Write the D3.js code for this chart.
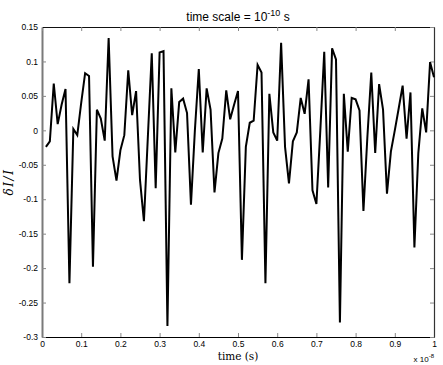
<!DOCTYPE html>
<html>
<head>
<meta charset="utf-8">
<script src="https://cdn.jsdelivr.net/npm/d3@7"></script>
<style>
  body { margin: 0; background: #fff; }
  svg { display: block; }
</style>
</head>
<body>
<script>
// waarden (tijd in eenheden van 1e-8 s)
var times = d3.range(1, 101).map(function (i) { return i / 100; });
var values = [
    -0.024, -0.016, 0.068, 0.009, 0.037, 0.060, -0.222, 0.002, -0.007, 0.040,
    0.083, 0.079, -0.198, 0.030, 0.017, -0.015, 0.134, -0.038, -0.073, -0.029,
    -0.007, 0.087, 0.022, 0.057, -0.072, -0.132, -0.010, 0.112, -0.084, 0.113,
    0.115, -0.284, 0.061, -0.032, 0.041, 0.046, 0.025, -0.108, 0.000, 0.089,
    -0.032, 0.061, 0.030, -0.090, -0.033, -0.012, 0.058, 0.016, 0.037, 0.057,
    -0.188, -0.024, 0.011, 0.014, 0.095, 0.084, -0.222, 0.053, -0.003, -0.015,
    0.127, -0.024, -0.077, -0.016, -0.003, 0.047, 0.024, 0.074, -0.087, -0.107,
    0.000, 0.114, -0.083, 0.119, 0.103, -0.279, 0.053, -0.031, 0.047, 0.045,
    0.029, -0.117, -0.010, 0.084, -0.033, 0.067, 0.030, -0.092, -0.031, 0.000,
    0.032, 0.065, -0.012, 0.055, -0.170, -0.033, 0.032, -0.003, 0.099, 0.077
];
var xTicks = [0, 0.1, 0.2, 0.3, 0.4, 0.5, 0.6, 0.7, 0.8, 0.9, 1];
var yTicks = [-0.3, -0.25, -0.2, -0.15, -0.1, -0.05, 0, 0.05, 0.1, 0.15];
var xTickLabels = ["0", "0.1", "0.2", "0.3", "0.4", "0.5", "0.6", "0.7", "0.8", "0.9", "1"];
var yTickLabels = ["-0.3", "-0.25", "-0.2", "-0.15", "-0.1", "-0.05", "0", "0.05", "0.1", "0.15"];

var margin = { top: 27, right: 9, bottom: 28, left: 42 },
    width = 443 - margin.left - margin.right,
    height = 365 - margin.top - margin.bottom;

var sans = "Liberation Sans, Arial, sans-serif";

var svg = d3.select("body").append("svg")
    .attr("width", 443)
    .attr("height", 365);

var g = svg.append("g")
    .attr("transform", "translate(" + margin.left + "," + margin.top + ")");

var x = d3.scaleLinear().domain([0, 1]).range([0, width]);
var y = d3.scaleLinear().domain([-0.3, 0.15]).range([height, 0]);

// assen in matlab stijl: ticks naar binnen, op alle vier zijden
function stijl(kleur, dikte) {
    return function (sel) {
        sel.selectAll("path.domain").attr("stroke", kleur).attr("stroke-width", dikte);
        sel.selectAll(".tick line").attr("stroke", "#888");
        sel.selectAll("text")
            .attr("fill", "#000")
            .attr("font-family", sans)
            .attr("font-size", 8.5);
    };
}

g.append("g")
    .attr("transform", "translate(0," + height + ")")
    .call(d3.axisBottom(x).tickValues(xTicks).tickSize(-4).tickSizeOuter(0).tickPadding(4)
        .tickFormat(function (d, i) { return xTickLabels[i]; }))
    .call(stijl("#000", 1.2));

g.append("g")
    .call(d3.axisLeft(y).tickValues(yTicks).tickSize(-4).tickSizeOuter(0).tickPadding(4)
        .tickFormat(function (d, i) { return yTickLabels[i]; }))
    .call(stijl("#7a7a7a", 2));

g.append("g")
    .call(d3.axisTop(x).tickValues(xTicks).tickSize(-4).tickSizeOuter(0).tickFormat(""))
    .call(stijl("#111", 1.2));

g.append("g")
    .attr("transform", "translate(" + width + ",0)")
    .call(d3.axisRight(y).tickValues(yTicks).tickSize(-4).tickSizeOuter(0).tickFormat(""))
    .call(stijl("#333", 1.2));

// de lijn zelf
var line = d3.line()
    .x(function (d, i) { return x(times[i]); })
    .y(function (d) { return y(d); });

g.append("path")
    .datum(values)
    .attr("fill", "none")
    .attr("stroke", "#000")
    .attr("stroke-width", 2)
    .attr("stroke-linejoin", "miter")
    .attr("d", line);

// titel
var title = svg.append("text")
    .attr("x", margin.left + width / 2)
    .attr("y", 21)
    .attr("text-anchor", "middle")
    .attr("font-family", sans)
    .attr("font-size", 12);
title.append("tspan").text("time scale = 10");
title.append("tspan").attr("dy", -5).attr("font-size", 9).text("-10");
title.append("tspan").attr("dy", 5).text(" s");

// as labels
svg.append("text")
    .attr("x", margin.left + width / 2)
    .attr("y", 360)
    .attr("text-anchor", "middle")
    .attr("font-family", "DejaVu Serif, serif")
    .attr("font-size", 10.5)
    .text("time (s)");

svg.append("text")
    .attr("transform", "translate(13," + (margin.top + height / 2) + ") rotate(-90)")
    .attr("text-anchor", "middle")
    .attr("font-family", "DejaVu Serif, serif")
    .attr("font-style", "italic")
    .attr("font-size", 12)
    .attr("letter-spacing", 1.5)
    .text("\u03b4I/I");

var expo = svg.append("text")
    .attr("x", 434)
    .attr("y", 362)
    .attr("text-anchor", "end")
    .attr("font-family", sans)
    .attr("font-size", 8);
expo.append("tspan").text("x 10");
expo.append("tspan").attr("dy", -4).attr("font-size", 6).text("-8");
</script>
</body>
</html>
